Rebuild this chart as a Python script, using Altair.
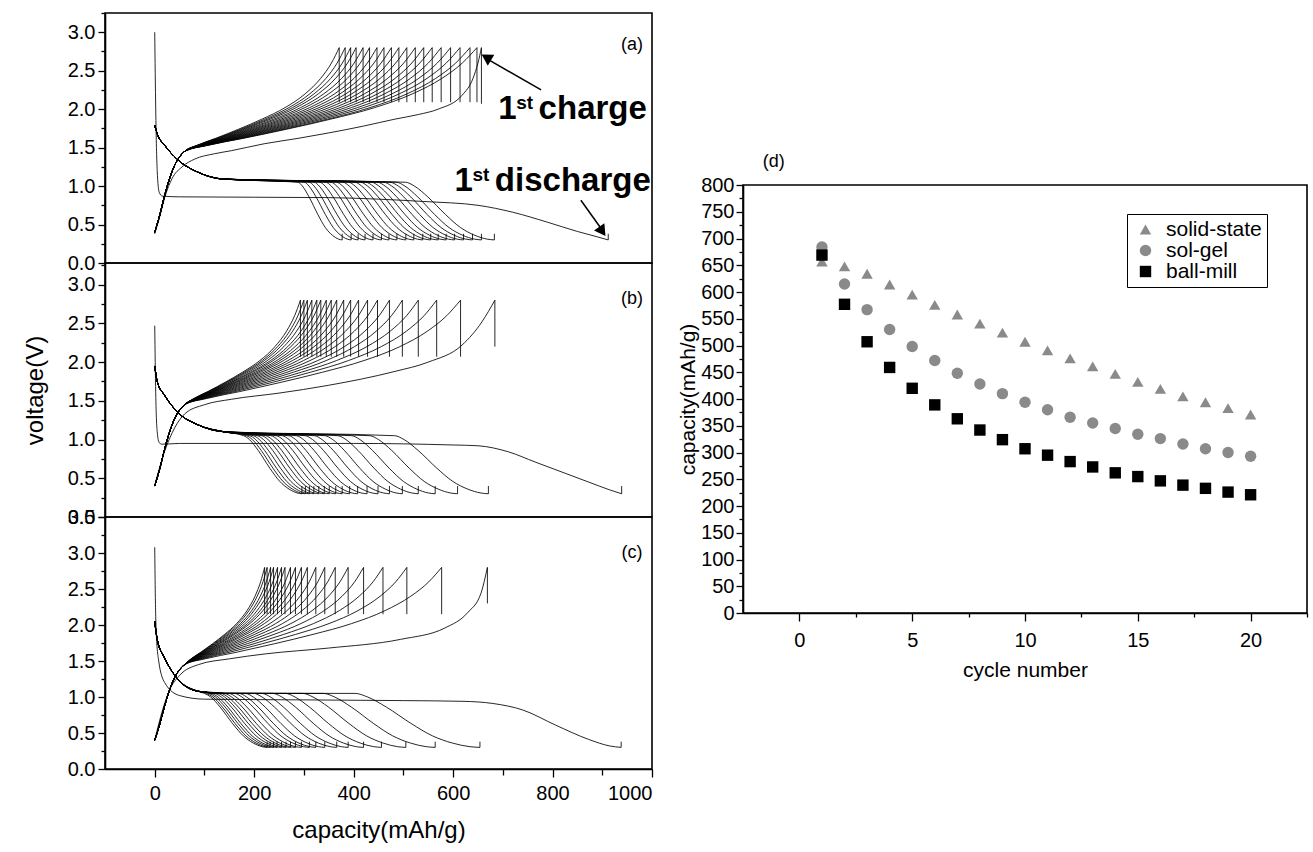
import altair as alt
import pandas as pd

FONT = "Liberation Sans"

# ---------------- panel (d): capacity vs cycle number ----------------
CYCLES = list(range(1, 21))
SOLID_STATE = [657, 648, 634, 614, 595, 576, 558, 541, 524, 507, 491, 476, 461, 447, 432, 419, 405, 394, 383, 371]
SOL_GEL = [684, 615, 567, 530, 498, 472, 448, 428, 410, 394, 380, 366, 355, 345, 334, 326, 316, 307, 300, 293]
BALL_MILL = [669, 577, 507, 459, 420, 389, 363, 342, 324, 307, 295, 283, 273, 262, 255, 247, 239, 233, 226, 221]

# ---------------- panels (a)-(c): end-of-discharge capacities, cycles 1..20 ----------------
DIS_END_A = [912, 683, 657, 639, 621, 603, 586, 570, 555, 539, 521, 505, 487, 471, 456, 439, 423, 409, 395, 377]
DIS_END_B = [939, 671, 609, 564, 530, 498, 472, 449, 427, 408, 392, 377, 364, 351, 341, 330, 320, 311, 303, 296]
DIS_END_C = [938, 654, 564, 505, 456, 420, 389, 366, 342, 324, 311, 295, 283, 273, 264, 255, 246, 239, 232, 226]

# first discharge curves (capacity, voltage)
A_FIRST_DIS_CAP = [0, 2, 5, 9, 15, 50, 350, 450, 540, 650, 720, 790, 850, 890, 912]
A_FIRST_DIS_V = [3.0, 2.0, 1.2, 0.92, 0.87, 0.86, 0.85, 0.83, 0.80, 0.75, 0.66, 0.53, 0.41, 0.34, 0.30]
B_FIRST_DIS_CAP = [0, 2, 5, 9, 15, 50, 400, 600, 650, 712, 765, 819, 873, 915, 939]
B_FIRST_DIS_V = [2.47, 1.6, 1.1, 0.96, 0.94, 0.95, 0.95, 0.93, 0.92, 0.84, 0.71, 0.58, 0.45, 0.35, 0.30]
C_FIRST_DIS_CAP = [0, 1, 3, 8, 20, 50, 100, 300, 500, 620, 680, 740, 806, 873, 915, 938]
C_FIRST_DIS_V = [3.08, 2.5, 1.9, 1.5, 1.2, 1.02, 0.97, 0.96, 0.95, 0.94, 0.91, 0.82, 0.61, 0.41, 0.32, 0.30]

# first charge curves (capacity, voltage)
A_FIRST_CH_CAP = [0, 10, 20, 35, 55, 80, 120, 154, 220, 288, 349, 420, 483, 530, 570, 618, 640, 650, 657]
A_FIRST_CH_V = [0.38, 0.6, 0.85, 1.1, 1.25, 1.35, 1.42, 1.46, 1.55, 1.62, 1.69, 1.78, 1.87, 1.93, 2.0, 2.18, 2.4, 2.6, 2.8]
B_FIRST_CH_CAP = [0, 20, 40, 60, 100, 154, 250, 349, 483, 550, 618, 658, 684]
B_FIRST_CH_V = [0.41, 0.85, 1.15, 1.33, 1.45, 1.52, 1.6, 1.70, 1.88, 2.0, 2.22, 2.52, 2.8]
C_FIRST_CH_CAP = [0, 15, 30, 50, 88, 150, 224, 350, 494, 584, 629, 656, 669]
C_FIRST_CH_V = [0.40, 0.8, 1.1, 1.3, 1.45, 1.53, 1.6, 1.68, 1.8, 1.96, 2.17, 2.44, 2.8]

# later-cycle discharge profile: start (absolute capacity), end part (fraction of knee->end)
DIS_HEAD_CAP = [0, 5, 20, 45, 87, 140]
A_DIS_HEAD_V = [1.79, 1.68, 1.53, 1.35, 1.18, 1.09]
B_DIS_HEAD_V = [1.95, 1.75, 1.57, 1.36, 1.19, 1.10]
C_DIS_HEAD_V = [2.05, 1.80, 1.54, 1.26, 1.08, 1.05]
DIS_TAIL_U = [0, 0.1, 0.25, 0.45, 0.62, 0.78, 0.92, 1.0]
DIS_TAIL_V = [1.05, 1.0, 0.86, 0.63, 0.46, 0.36, 0.31, 0.30]
KNEE = {"a": (21.5, 0.707), "b": (-61.0, 0.81), "c": (-60.0, 0.708)}

# later-cycle charge profile: start (absolute capacity), body (fraction of 60->end)
CH_HEAD_CAP = [0, 10, 20, 30, 40, 50, 60]
CH_HEAD_V = [0.40, 0.62, 0.88, 1.1, 1.27, 1.38, 1.45]
CH_BODY_U = [0, 0.08, 0.2, 0.35, 0.5, 0.65, 0.78, 0.88, 0.95, 1.0]
CH_BODY_V = [1.45, 1.53, 1.62, 1.74, 1.87, 2.02, 2.2, 2.4, 2.6, 2.8]

# relaxation ends: (discharge tick top, first charge drop, later charge drop)
RELAX = {"a": (0.38, 2.07, 2.09), "b": (0.40, 2.2, 2.07), "c": (0.38, 2.3, 2.15)}


def build_panel(key, dis_end, ch_end, first_dis, first_ch, head_v):
    rows, ticks = [], []
    ka, kb = KNEE[key]
    tick_top, drop1, drop = RELAX[key]
    for n in range(1, 21):
        E = dis_end[n - 1]
        if n == 1:
            pts = list(zip(*first_dis))
        else:
            K = ka + kb * E
            pts = [(c, v) for c, v in zip(DIS_HEAD_CAP, head_v) if c < K - 8]
            pts += [(K + u * (E - K), v) for u, v in zip(DIS_TAIL_U, DIS_TAIL_V)]
        for i, (c, v) in enumerate(pts):
            rows.append({"curve": f"d{n}", "seq": i, "cap": c, "v": v})
        ticks.append({"cap": E, "v": 0.30, "v2": tick_top})
        C = ch_end[n - 1]
        if n == 1:
            pts = list(zip(*first_ch))
        else:
            pts = list(zip(CH_HEAD_CAP, CH_HEAD_V))
            pts += [(60 + u * (C - 60), v) for u, v in zip(CH_BODY_U[1:], CH_BODY_V[1:])]
        for i, (c, v) in enumerate(pts):
            rows.append({"curve": f"c{n}", "seq": i, "cap": c, "v": v})
        ticks.append({"cap": C, "v": 2.8, "v2": drop1 if n == 1 else drop})
    return pd.DataFrame(rows), pd.DataFrame(ticks)


dfa, tka = build_panel("a", DIS_END_A, SOLID_STATE, (A_FIRST_DIS_CAP, A_FIRST_DIS_V), (A_FIRST_CH_CAP, A_FIRST_CH_V), A_DIS_HEAD_V)
dfb, tkb = build_panel("b", DIS_END_B, SOL_GEL, (B_FIRST_DIS_CAP, B_FIRST_DIS_V), (B_FIRST_CH_CAP, B_FIRST_CH_V), B_DIS_HEAD_V)
dfc, tkc = build_panel("c", DIS_END_C, BALL_MILL, (C_FIRST_DIS_CAP, C_FIRST_DIS_V), (C_FIRST_CH_CAP, C_FIRST_CH_V), C_DIS_HEAD_V)

LABEL_SIZE = 20
TITLE_SIZE = 24


def y_axis(ymax, title):
    n = int(round(ymax / 0.25))
    vals = [k * 0.25 for k in range(0, n + 1)]
    kw = dict(
        values=vals,
        labelExpr="datum.value % 0.5 === 0 ? format(datum.value, '.1f') : ''",
        tickSize={"condition": {"test": "datum.value % 0.5 === 0", "value": 7}, "value": 4},
        labelPadding=3, labelFontSize=LABEL_SIZE, grid=False,
    )
    if title:
        kw.update(title=title, titlePadding=20, titleFontSize=TITLE_SIZE)
    else:
        kw.update(title=None)
    return alt.Axis(**kw)


def panel(df, tk, ymax, height, letter, label_v, show_x=False, ytitle=None, extra=None):
    if show_x:
        xaxis = alt.Axis(
            values=list(range(0, 1001, 100)),
            labelExpr="datum.value % 200 === 0 ? '' + datum.value : ''",
            tickSize={"condition": {"test": "datum.value % 200 === 0", "value": 8}, "value": 6},
            labelPadding=6, labelFontSize=LABEL_SIZE, grid=False,
            title="capacity(mAh/g)", titleFontSize=TITLE_SIZE, titlePadding=15,
        )
    else:
        xaxis = None
    X = alt.X("cap:Q", scale=alt.Scale(domain=[-100, 1000], nice=False, zero=False), axis=xaxis)
    Y = alt.Y("v:Q", scale=alt.Scale(domain=[0, ymax], nice=False), axis=y_axis(ymax, ytitle))
    lines = alt.Chart(df).mark_line(color="black", strokeWidth=0.85, interpolate="monotone").encode(
        x=X, y=Y, detail="curve:N", order="seq:Q")
    rules = alt.Chart(tk).mark_rule(color="black", strokeWidth=0.85).encode(x=X, y=Y, y2="v2:Q")
    lab = alt.Chart(pd.DataFrame({"cap": [960], "v": [label_v], "t": [letter]})).mark_text(
        font=FONT, fontSize=18, align="center", baseline="middle", color="black").encode(x=X, y=Y, text="t:N")
    layers = [lines, rules, lab] + (extra(X, Y) if extra else [])
    return alt.layer(*layers).properties(width=547, height=height)


def annotations_a(X, Y):
    big = pd.DataFrame({"cap": [691, 772, 603, 684], "v": [1.87, 1.87, 0.94, 0.94],
                        "t": ["1", "charge", "1", "discharge"]})
    sup = pd.DataFrame({"cap": [727, 639], "v": [2.0, 1.07], "t": ["st", "st"]})
    arrows = pd.DataFrame({"cap": [777, 857], "v": [2.25, 0.815], "cap2": [664, 903], "v2": [2.67, 0.40]})
    heads = pd.DataFrame({"cap": [670, 898], "v": [2.66, 0.43], "ang": [301, 145]})
    t1 = alt.Chart(big).mark_text(font=FONT, fontSize=33, fontWeight="bold", align="left",
                                  baseline="alphabetic", color="black").encode(x=X, y=Y, text="t:N")
    t2 = alt.Chart(sup).mark_text(font=FONT, fontSize=19, fontWeight="bold", align="left",
                                  baseline="alphabetic", color="black").encode(x=X, y=Y, text="t:N")
    ar = alt.Chart(arrows).mark_rule(color="black", strokeWidth=1.5).encode(x=X, y=Y, x2="cap2:Q", y2="v2:Q")
    hd = alt.Chart(heads).mark_point(shape="triangle", filled=True, color="black", size=160, opacity=1).encode(
        x=X, y=Y, angle=alt.Angle("ang:Q", scale=None))
    return [t1, t2, ar, hd]


pa = panel(dfa, tka, 3.25, 250, "(a)", 2.83, extra=annotations_a)
pb = panel(dfb, tkb, 3.28, 254, "(b)", 2.82, ytitle="voltage(V)")
pc = panel(dfc, tkc, 3.5, 252, "(c)", 3.0, show_x=True)

left = alt.vconcat(pa, pb, pc, spacing=0, bounds="flush")

# ---------------- panel (d) ----------------
SERIES = ["solid-state", "sol-gel", "ball-mill"]
d_rows = []
for name, vals in zip(SERIES, [SOLID_STATE, SOL_GEL, BALL_MILL]):
    for c, v in zip(CYCLES, vals):
        d_rows.append({"cycle": c, "capacity": v, "series": name})
dfd = pd.DataFrame(d_rows)

leg = dict(orient="none", legendX=1022, legendY=201, title=None, strokeColor="black", padding=5,
           labelFont=FONT, labelFontSize=21, labelColor="black", symbolSize=130, rowPadding=-1,
           labelOffset=10, symbolOffset=3, fillColor="white")
pd_chart = alt.Chart(dfd).mark_point(filled=True, size=130, opacity=1).encode(
    x=alt.X("cycle:Q", scale=alt.Scale(domain=[-2.5, 22.5], nice=False, zero=False),
            axis=alt.Axis(values=[k * 2.5 for k in range(0, 10)],
                          labelExpr="datum.value % 5 === 0 ? '' + datum.value : ''",
                          tickSize={"condition": {"test": "datum.value % 5 === 0", "value": 8}, "value": 4},
                          labelPadding=9, labelFontSize=20, grid=False,
                          title="cycle number", titleFontSize=21, titlePadding=9)),
    y=alt.Y("capacity:Q", scale=alt.Scale(domain=[0, 800], nice=False),
            axis=alt.Axis(values=list(range(0, 801, 25)),
                          labelExpr="datum.value % 50 === 0 ? '' + datum.value : ''",
                          tickSize={"condition": {"test": "datum.value % 50 === 0", "value": 7}, "value": 4},
                          labelPadding=2, labelFontSize=20, grid=False,
                          title="capacity(mAh/g)", titleFontSize=21, titlePadding=2)),
    color=alt.Color("series:N", scale=alt.Scale(domain=SERIES, range=["#8a8a8a", "#8a8a8a", "#000000"]),
                    legend=alt.Legend(**leg)),
    shape=alt.Shape("series:N", scale=alt.Scale(domain=SERIES, range=["triangle-up", "circle", "square"]),
                    legend=alt.Legend(**leg)),
).properties(width=564, height=428,
             title=alt.TitleParams("(d)", anchor="start", dx=85, offset=4, fontSize=18,
                                   fontWeight="normal", font=FONT, color="black"))

spacer = alt.Chart(pd.DataFrame({"z": [0]})).mark_point(opacity=0).encode(
    x=alt.X("z:Q", axis=None), y=alt.Y("z:Q", axis=None)
).properties(width=564, height=138, view=alt.ViewBackground(stroke="transparent"))

right = alt.vconcat(spacer, pd_chart, spacing=0)

chart = alt.hconcat(left, right, spacing=22).properties(
    padding={"left": 22, "top": 11, "right": 2, "bottom": 2}
).configure_view(stroke="black", strokeWidth=1.6).configure_axis(
    domainColor="black", domainWidth=1.6, tickColor="black", tickWidth=1.3,
    labelFont=FONT, labelColor="black", titleFont=FONT, titleColor="black",
    titleFontWeight="normal",
)

chart.save("out.html", embed_options={"renderer": "svg", "actions": False})
